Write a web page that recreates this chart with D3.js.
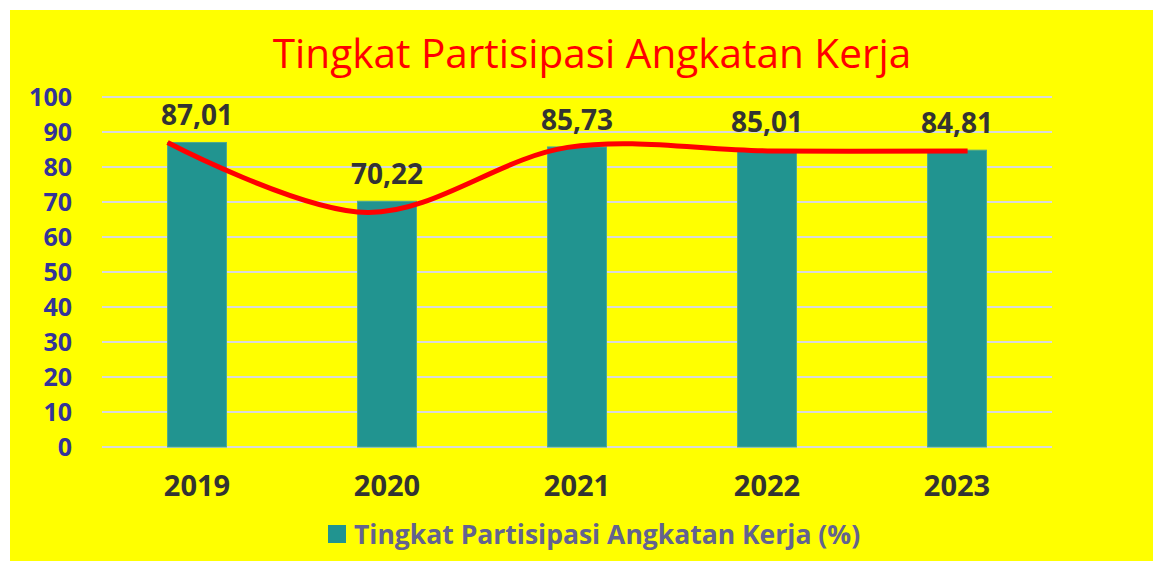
<!DOCTYPE html>
<html>
<head>
<meta charset="utf-8">
<script src="https://cdn.jsdelivr.net/npm/d3@7"></script>
<style>
  body { margin: 0; background: #ffffff; }
  svg { display: block; }
</style>
</head>
<body>
<svg id="grafica"></svg>
<script>
const svg_w = 1153;
const svg_h = 561;

// datos del gráfico
const years = ["2019", "2020", "2021", "2022", "2023"];
const tpak = [87.01, 70.22, 85.73, 85.01, 84.81];
const tpak_labels = ["87,01", "70,22", "85,73", "85,01", "84,81"];
// la línea roja (tendencia)
const trend = [87.0, 67.0, 85.6, 84.6, 84.6];
const y_ticks = [0, 10, 20, 30, 40, 50, 60, 70, 80, 90, 100];

const title = "Tingkat Partisipasi Angkatan Kerja";
const legend_label = "Tingkat Partisipasi Angkatan Kerja (%)";

const margin = {l: 102, r: 101, t: 97, b: 114};
const viz_w = svg_w - margin.l - margin.r;
const viz_h = svg_h - margin.t - margin.b;

const font = "'Open Sans', 'Noto Sans', sans-serif";

let svg = d3.select("#grafica")
  .attr("width", svg_w)
  .attr("height", svg_h);

// fondo amarillo
svg.append("rect")
  .attr("x", 10)
  .attr("y", 10)
  .attr("width", svg_w - 10)
  .attr("height", svg_h - 10)
  .attr("fill", "#ffff00");

// título
svg.append("text")
  .attr("x", 592)
  .attr("y", 68)
  .attr("text-anchor", "middle")
  .attr("font-family", font)
  .attr("font-size", 40.5)
  .attr("fill", "#ff0000")
  .text(title);

let x_scale = d3.scaleBand()
  .domain(years)
  .range([0, viz_w])
  .paddingInner(0.69)
  .paddingOuter(0.345);

let y_scale = d3.scaleLinear()
  .domain([0, 100])
  .range([viz_h, 0]);

let g = svg.append("g")
  .attr("transform", `translate(${margin.l},${margin.t})`);

// líneas de la cuadrícula
g.append("g")
  .selectAll("line")
  .data(y_ticks)
  .enter()
  .append("line")
  .attr("x1", 0)
  .attr("x2", viz_w)
  .attr("y1", d => y_scale(d))
  .attr("y2", d => y_scale(d))
  .attr("stroke", "#d9d9d9")
  .attr("stroke-width", 2);

// eje y
let y_axis = g.append("g")
  .call(d3.axisLeft(y_scale).tickValues(y_ticks).tickSize(0).tickPadding(30));
y_axis.select(".domain").remove();
y_axis.selectAll("text")
  .attr("font-family", font)
  .attr("font-size", 25)
  .attr("font-weight", "bold")
  .attr("fill", "#333399");

// eje x
let x_axis = g.append("g")
  .attr("transform", `translate(0,${viz_h})`)
  .call(d3.axisBottom(x_scale).tickSize(0).tickPadding(28));
x_axis.select(".domain").remove();
x_axis.selectAll("text")
  .attr("font-family", font)
  .attr("font-size", 29)
  .attr("font-weight", "bold")
  .attr("fill", "#333333");

// barras
g.append("g")
  .selectAll("rect")
  .data(tpak)
  .enter()
  .append("rect")
  .attr("x", (d, i) => x_scale(years[i]))
  .attr("y", d => y_scale(d))
  .attr("width", x_scale.bandwidth())
  .attr("height", d => viz_h - y_scale(d))
  .attr("fill", "#219490")
  .attr("stroke", "#4fa98c")
  .attr("stroke-width", 1);

// línea roja suavizada
let trend_x = d3.scaleLinear()
  .domain([0, trend.length - 1])
  .range([x_scale(years[0]), x_scale(years[years.length - 1]) + x_scale.bandwidth() * 0.68]);

let line = d3.line()
  .x((d, i) => trend_x(i))
  .y(d => y_scale(d))
  .curve(d3.curveCatmullRom.alpha(0.5));

g.append("path")
  .datum(trend)
  .attr("d", line)
  .attr("fill", "none")
  .attr("stroke", "#ff0000")
  .attr("stroke-width", 5);

// etiquetas de datos
g.append("g")
  .selectAll("text")
  .data(tpak)
  .enter()
  .append("text")
  .attr("x", (d, i) => x_scale(years[i]) + x_scale.bandwidth() / 2)
  .attr("y", d => y_scale(d) - 17)
  .attr("text-anchor", "middle")
  .attr("font-family", font)
  .attr("font-size", 28)
  .attr("font-weight", "bold")
  .attr("fill", "#333333")
  .text((d, i) => tpak_labels[i]);

// leyenda
let legend = svg.append("g")
  .attr("transform", "translate(328,525)");
legend.append("rect")
  .attr("width", 18)
  .attr("height", 18)
  .attr("fill", "#219490");
legend.append("text")
  .attr("x", 26)
  .attr("y", 19)
  .attr("font-family", font)
  .attr("font-size", 26.5)
  .attr("font-weight", "bold")
  .attr("fill", "#63638f")
  .text(legend_label);
</script>
</body>
</html>
